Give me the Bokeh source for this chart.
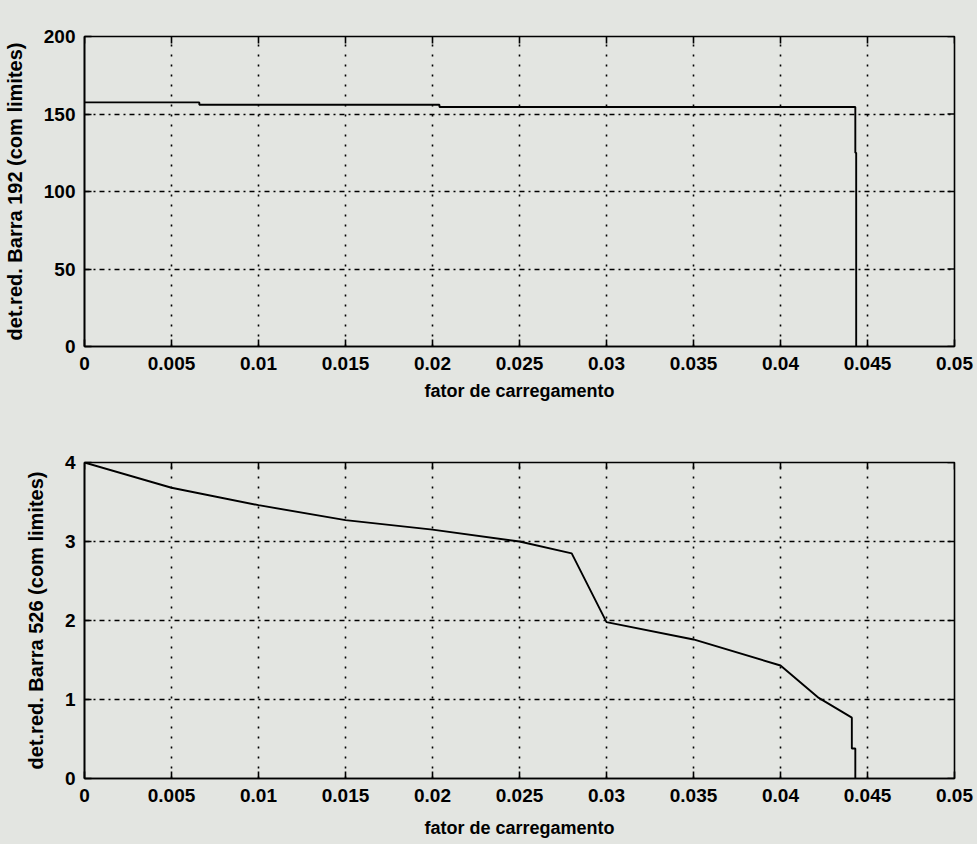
import math
from bokeh.plotting import figure
from bokeh.layouts import column
from bokeh.models import FixedTicker, Range1d
from bokeh.embed import file_html
from bokeh.resources import INLINE

# ---- data ----
x_ticks = [0, 0.005, 0.01, 0.015, 0.02, 0.025, 0.03, 0.035, 0.04, 0.045, 0.05]
x_tick_labels = ["0", "0.005", "0.01", "0.015", "0.02", "0.025", "0.03", "0.035", "0.04", "0.045", "0.05"]
y1_ticks = [0, 50, 100, 150, 200]
y2_ticks = [0, 1, 2, 3, 4]

x_top = [0, 0.0066, 0.0066, 0.0204, 0.0204, 0.0443, 0.0443, 0.04435, 0.04435]
y_top = [157.5, 157.5, 156.0, 156.0, 154.5, 154.5, 125.0, 125.0, 0]

x_bot = [0, 0.005, 0.01, 0.015, 0.02, 0.025, 0.028, 0.03, 0.035, 0.04, 0.0422, 0.0441, 0.0441, 0.0443, 0.0443]
y_bot = [4.0, 3.68, 3.46, 3.27, 3.15, 3.0, 2.85, 1.98, 1.76, 1.43, 1.02, 0.77, 0.38, 0.38, 0]

x_label = "fator de carregamento"
y_label_top = "det.red. Barra 192 (com limites)"
y_label_bot = "det.red. Barra 526 (com limites)"

BG = "#e3e5e1"
FONT = "Liberation Sans"
X_MAX = 0.05


def make_fig(xs, ys, yticks, ymax, ylabel, height, top_b, bot_b, lab_std, ax_std):
    p = figure(width=977, height=height, output_backend="svg", toolbar_location=None,
               x_range=Range1d(0, X_MAX), y_range=Range1d(0, ymax),
               min_border_left=84, min_border_right=23, min_border_top=top_b, min_border_bottom=bot_b,
               background_fill_color=BG, border_fill_color=BG)
    p.outline_line_color = "black"
    p.outline_line_width = 1.6

    p.xaxis.ticker = FixedTicker(ticks=x_ticks)
    p.xaxis.major_label_overrides = {t: l for t, l in zip(x_ticks, x_tick_labels)}
    p.yaxis.ticker = FixedTicker(ticks=yticks)
    for ax in (p.xaxis[0], p.yaxis[0]):
        ax.major_tick_in = 7
        ax.major_tick_out = 0
        ax.minor_tick_line_color = None
        ax.axis_line_color = "black"
        ax.axis_line_width = 1.6
        ax.major_tick_line_color = "black"
        ax.major_tick_line_width = 1.6
        ax.major_label_text_font = FONT
        ax.major_label_text_font_size = "19px"
        ax.major_label_text_font_style = "bold"
        ax.major_label_text_color = "black"
        ax.axis_label_text_font = FONT
        ax.axis_label_text_font_style = "bold"
        ax.axis_label_text_color = "black"
    p.xaxis.axis_label = x_label
    p.xaxis.axis_label_text_font_size = "18px"
    p.xaxis.major_label_standoff = lab_std
    p.xaxis.axis_label_standoff = ax_std
    p.yaxis.axis_label = ylabel
    p.yaxis.axis_label_text_font_size = "20px"
    p.yaxis.major_label_standoff = 9
    p.yaxis.axis_label_standoff = 15

    p.xgrid.ticker = FixedTicker(ticks=x_ticks)
    p.ygrid.ticker = FixedTicker(ticks=yticks)
    p.xgrid.grid_line_color = "black"
    p.xgrid.grid_line_width = 1.6
    p.xgrid.grid_line_dash = "2 8"
    p.ygrid.grid_line_color = "black"
    p.ygrid.grid_line_width = 1.6
    p.ygrid.grid_line_dash = "5 4 2 4"

    # mirrored tick marks on the top and right edges
    p.ray(x=x_ticks, y=[ymax] * len(x_ticks), length=7, length_units="screen",
          angle=-math.pi / 2, line_color="black", line_width=1.6)
    p.ray(x=[X_MAX] * len(yticks), y=yticks, length=7, length_units="screen",
          angle=math.pi, line_color="black", line_width=1.6)

    p.line(xs, ys, line_color="black", line_width=1.9)
    return p


p1 = make_fig(x_top, y_top, y1_ticks, 200, y_label_top, 408, 36, 62, 10, 8)
p2 = make_fig(x_bot, y_bot, y2_ticks, 4, y_label_bot, 436, 54, 66, 10, 13)

layout = column(p1, p2, spacing=0, background=BG)
html = file_html(layout, INLINE)
html = html.replace("<body>", '<body style="background:%s">' % BG, 1)
open("out.html", "w").write(html)
